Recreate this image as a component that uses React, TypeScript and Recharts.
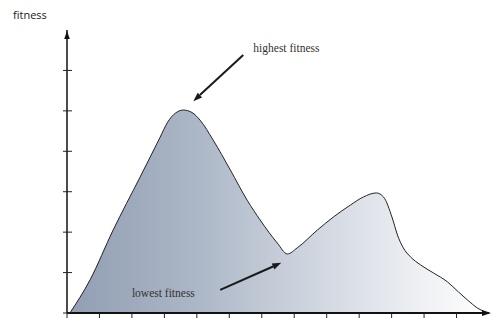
import { AreaChart, Area, XAxis, YAxis, ReferenceLine, ReferenceDot } from "recharts";

// curve (x in tick units, y in tick units)
const xs = [0.09, 0.71, 1.42, 2.25, 2.87, 3.1, 3.35, 3.58, 3.85, 4.1, 4.5, 5.03, 5.55, 5.95, 6.48, 6.79, 7.09, 7.71, 8.2, 8.73, 9.13, 9.53, 9.75, 10.02, 10.18, 10.36, 10.58, 10.89, 11.29, 11.72, 12.06, 12.34, 12.65, 12.95];
const fitness = [0, 0.82, 2.05, 3.36, 4.35, 4.72, 4.95, 5.02, 4.96, 4.77, 4.28, 3.54, 2.79, 2.3, 1.73, 1.46, 1.61, 2.05, 2.37, 2.67, 2.87, 2.97, 2.87, 2.35, 1.93, 1.61, 1.39, 1.19, 0.99, 0.77, 0.52, 0.32, 0.12, 0];

const xTicks = [0, 1, 2, 3, 4, 5, 6, 7, 8, 9, 10, 11, 12];
const yTicks = [0, 1, 2, 3, 4, 5, 6];

// annotations: label, text anchor point, arrow start -> arrow end
const noteLabels = ["highest fitness", "lowest fitness"];
const noteText = [
  [5.74, 6.46],
  [2.0, 0.4],
];
const noteArrows = [
  [5.43, 6.38, 3.89, 5.24],
  [4.72, 0.57, 6.6, 1.24],
];

const data = xs.map((x, i) => ({ x, y: fitness[i] }));

const serif = "'Liberation Serif', 'DejaVu Serif', serif";

function YTick(props: any) {
  const { x, y } = props;
  return <line x1={x - 4} x2={x + 5} y1={y} y2={y} stroke="#222" strokeWidth={1} />;
}

function XTick(props: any) {
  const { x, y } = props;
  return <line x1={x} x2={x} y1={y} y2={y + 5} stroke="#222" strokeWidth={1} />;
}

function Arrow(props: any) {
  const { x1, y1, x2, y2 } = props;
  const a = Math.atan2(y2 - y1, x2 - x1);
  const len = 9;
  const w = 3.2;
  const bx = x2 - len * Math.cos(a);
  const by = y2 - len * Math.sin(a);
  const px = -Math.sin(a) * w;
  const py = Math.cos(a) * w;
  return (
    <g>
      <line x1={x1} y1={y1} x2={bx} y2={by} stroke="#1a1a1a" strokeWidth={2} />
      <polygon points={`${x2},${y2} ${bx + px},${by + py} ${bx - px},${by - py}`} fill="#1a1a1a" />
    </g>
  );
}

function UpHead(props: any) {
  const { cx, cy } = props;
  return <polygon points={`${cx},${cy + 1} ${cx - 2.8},${cy + 9} ${cx + 2.8},${cy + 9}`} fill="#111" />;
}

function RightHead(props: any) {
  const { cx, cy } = props;
  return <polygon points={`${cx + 2},${cy} ${cx - 7},${cy - 3} ${cx - 7},${cy + 3}`} fill="#111" />;
}

export default function App() {
  return (
    <div style={{ position: "absolute", left: 0, top: 0, width: 497, height: 322, background: "#fff" }}>
      <div
        style={{
          position: "absolute",
          left: 13,
          top: 7,
          fontFamily: "'Open Sans', sans-serif",
          fontSize: 11,
          color: "#222",
        }}
      >
        fitness
      </div>
      <AreaChart width={497} height={322} data={data} margin={{ top: 30, right: 8, bottom: 0, left: 57 }}>
        <defs>
          <linearGradient id="fitFill" x1="0" y1="0" x2="1" y2="0">
            <stop offset="0%" stopColor="#929eb3" />
            <stop offset="30%" stopColor="#abb6c6" />
            <stop offset="52%" stopColor="#c8cfda" />
            <stop offset="78%" stopColor="#e7eaef" />
            <stop offset="100%" stopColor="#ffffff" />
          </linearGradient>
        </defs>
        <Area
          type="monotone"
          dataKey="y"
          stroke="#222"
          strokeWidth={1}
          fill="url(#fitFill)"
          fillOpacity={1}
          dot={false}
          activeDot={false}
          isAnimationActive={false}
        />
        <XAxis
          dataKey="x"
          type="number"
          domain={[0, 13]}
          ticks={xTicks}
          height={9}
          tickSize={0}
          tickMargin={0}
          tick={<XTick />}
          axisLine={{ stroke: "#111", strokeWidth: 2 }}
          tickLine={false}
          interval={0}
        />
        <YAxis
          type="number"
          domain={[0, 7]}
          ticks={yTicks}
          width={10}
          tickSize={0}
          tickMargin={0}
          tick={<YTick />}
          axisLine={{ stroke: "#111", strokeWidth: 1.5 }}
          tickLine={false}
          interval={0}
        />
        <ReferenceDot x={0} y={7} r={0} shape={<UpHead />} ifOverflow="visible" />
        <ReferenceDot x={13} y={0} r={0} shape={<RightHead />} ifOverflow="visible" />
        {noteArrows.map((a, i) => (
          <ReferenceLine
            key={"arr" + i}
            segment={[
              { x: a[0], y: a[1] },
              { x: a[2], y: a[3] },
            ]}
            shape={<Arrow />}
            ifOverflow="visible"
          />
        ))}
        {noteLabels.map((label, i) => (
          <ReferenceDot
            key={"lab" + i}
            x={noteText[i][0]}
            y={noteText[i][1]}
            r={0}
            ifOverflow="visible"
            shape={(p: any) => (
              <text x={p.cx} y={p.cy} fontFamily={serif} fontSize={11.5} fill="#333">
                {label}
              </text>
            )}
          />
        ))}
      </AreaChart>
    </div>
  );
}
